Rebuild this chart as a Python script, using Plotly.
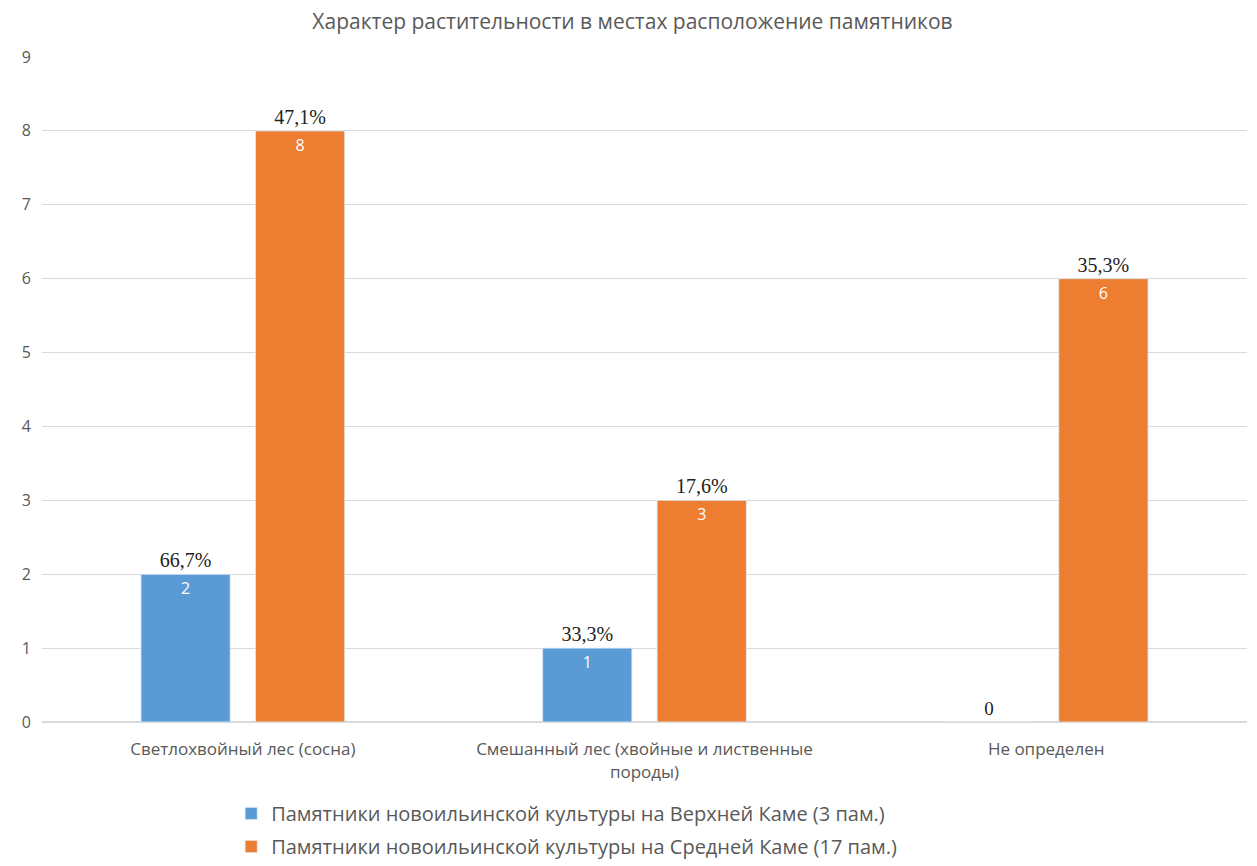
import plotly.graph_objects as go

categories = ["Светлохвойный лес (сосна)",
              "Смешанный лес (хвойные и лиственные<br>породы)",
              "Не определен"]
series_names = ["Памятники новоильинской культуры на Верхней Каме (3 пам.)",
                "Памятники новоильинской культуры на Средней Каме (17 пам.)"]
upper_kama = [2, 1, 0]
middle_kama = [8, 3, 6]
upper_pct = ["66,7%", "33,3%", ""]
middle_pct = ["47,1%", "17,6%", "35,3%"]
colors = ["#5B9BD5", "#ED7D31"]

fig = go.Figure()
all_vals = [upper_kama, middle_kama]
all_pct = [upper_pct, middle_pct]
for i in range(2):
    vals = all_vals[i]
    # main bar with percent labels outside
    fig.add_trace(go.Bar(
        x=categories, y=vals, name=series_names[i], marker_color=colors[i],
        offsetgroup=str(i), legendgroup=str(i), text=all_pct[i], textposition="outside",
        cliponaxis=False,
        outsidetextfont=dict(family="Liberation Serif", size=20, color="#222222"),
        hoverinfo="skip"))
    # overlay for value labels
    pos = ["inside" if v > 0 else "outside" for v in vals]
    fig.add_trace(go.Bar(
        x=categories, y=vals, showlegend=False, marker_color="rgba(0,0,0,0)",
        offsetgroup=str(i), legendgroup=str(i), text=[str(v) for v in vals],
        textposition=pos, insidetextanchor="end", cliponaxis=False,
        insidetextfont=dict(family="Open Sans", size=16, color="white"),
        outsidetextfont=dict(family="Liberation Serif", size=19, color="#222222"),
        hoverinfo="skip"))

fig.update_layout(
    barmode="group", bargap=0.43, bargroupgap=0.22,
    width=1249, height=858,
    margin=dict(l=34, r=10, t=49, b=144, autoexpand=False),
    paper_bgcolor="white", plot_bgcolor="white",
    title=dict(text="Характер растительности в местах расположение памятников",
               x=0.5, xanchor="center", y=0.984, yanchor="middle",
               font=dict(family="Open Sans", size=21, color="#595959")),
    font=dict(family="Open Sans", size=16, color="#595959"),
    yaxis=dict(range=[0, 9], dtick=1, showgrid=True, gridcolor="#D9D9D9",
               zeroline=True, zerolinecolor="#D9D9D9", ticks="",
               ticklabelstandoff=10,
               tickfont=dict(size=16, color="#595959")),
    xaxis=dict(showline=True, linecolor="#D9D9D9", ticklabelstandoff=12,
               tickfont=dict(size=17, color="#595959")),
    legend=dict(orientation="v", x=0.157, xanchor="left",
                yref="container", y=0.084, yanchor="top",
                font=dict(size=20, color="#595959"), tracegroupgap=4,
                itemwidth=30),
)

fig.write_html("out.html")
